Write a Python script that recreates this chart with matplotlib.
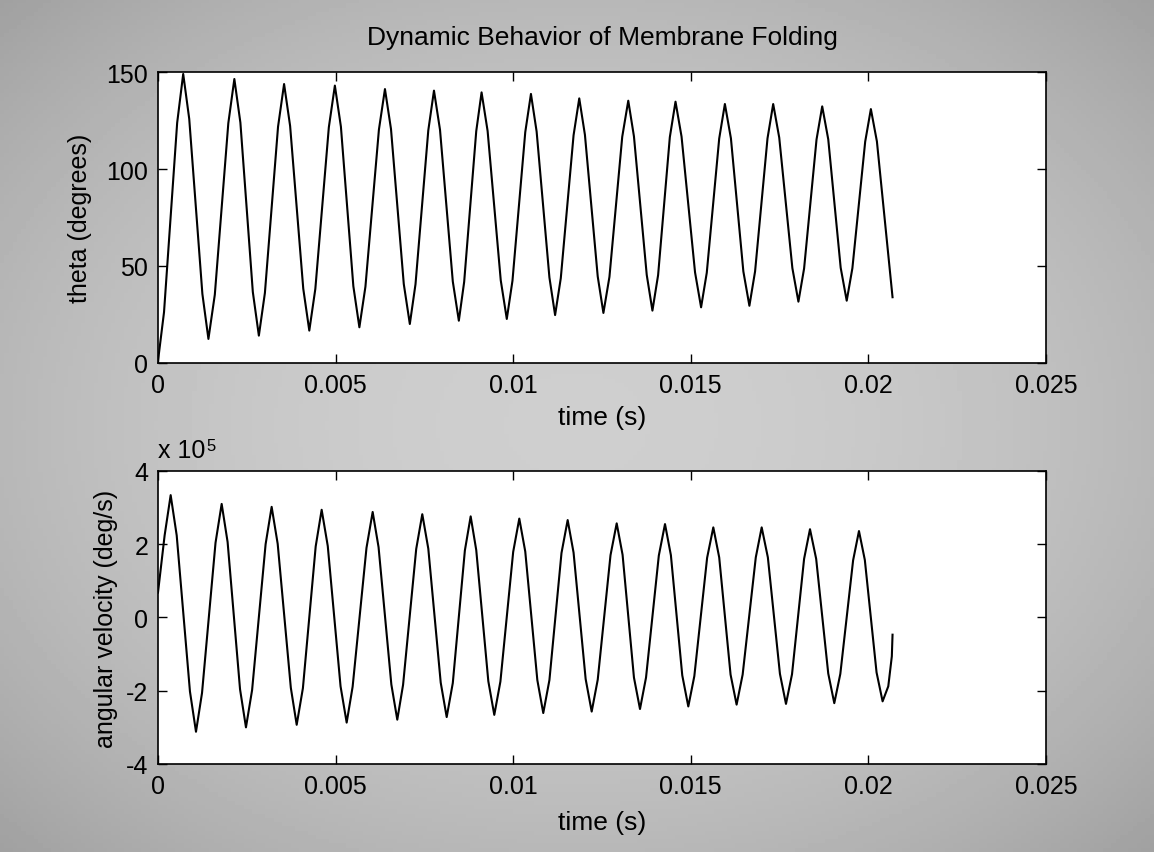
import numpy as np
import matplotlib
matplotlib.use('Agg')
import matplotlib.pyplot as plt

# theta(t): peaks, troughs and shoulder points
theta_t = [0.0, 0.00017, 0.00054, 0.00071, 0.00088, 0.00125, 0.00142,
           0.0016, 0.00198, 0.00215, 0.00232, 0.00267, 0.00284,
           0.00301, 0.00338, 0.00355, 0.00372, 0.00409, 0.00426,
           0.00443, 0.00481, 0.00498, 0.00515, 0.0055, 0.00567,
           0.00584, 0.00622, 0.00639, 0.00656, 0.00692, 0.00709,
           0.00725, 0.00761, 0.00777, 0.00794, 0.0083, 0.00847,
           0.00862, 0.00896, 0.00911, 0.00928, 0.00965, 0.00982,
           0.00998, 0.01034, 0.0105, 0.01066, 0.01102, 0.01118,
           0.01134, 0.0117, 0.01186, 0.01202, 0.01238, 0.01254,
           0.01271, 0.01307, 0.01324, 0.0134, 0.01376, 0.01392,
           0.01408, 0.01441, 0.01457, 0.01474, 0.01512, 0.01529,
           0.01545, 0.0158, 0.01596, 0.01613, 0.01648, 0.01665,
           0.01681, 0.01716, 0.01732, 0.01749, 0.01786, 0.01803,
           0.01819, 0.01854, 0.0187, 0.01887, 0.01922, 0.01939,
           0.01955, 0.01991, 0.02007, 0.02024, 0.02068]
theta_deg = [1, 26.2, 123.8, 149, 125.8, 35.6, 12.4,
             35.2, 123.6, 146.4, 123.9, 36.6, 14.1,
             36.1, 121.8, 143.8, 122.2, 38.3, 16.7,
             38.2, 121.5, 143, 121.8, 39.6, 18.4,
             39.3, 120.3, 141.2, 120.6, 40.7, 20.1,
             40.6, 119.9, 140.4, 120.2, 42.0, 21.8,
             41.8, 119.5, 139.5, 119.6, 42.6, 22.7,
             42.4, 119.0, 138.7, 119.3, 44.1, 24.7,
             43.7, 117.4, 136.4, 117.6, 44.6, 25.8,
             44.4, 116.6, 135.2, 116.8, 45.4, 27,
             45.3, 116.4, 134.7, 116.7, 46.7, 28.7,
             46.5, 115.7, 133.5, 115.8, 47.2, 29.5,
             47.2, 115.8, 133.5, 116.2, 48.9, 31.6,
             48.7, 115.2, 132.3, 115.3, 49.1, 32.1,
             48.9, 114.1, 130.9, 114.2, 33.9]

# angular velocity in units of 1e5 deg/s
omega_t = [0.0, 0.000187, 0.000357, 0.000527, 0.0009, 0.00107,
           0.00124, 0.00162, 0.001793, 0.00196, 0.00231, 0.002477,
           0.00265, 0.00303, 0.0032, 0.00337, 0.00374, 0.003905,
           0.00408, 0.00444, 0.004608, 0.00478, 0.00514, 0.005312,
           0.00548, 0.00587, 0.006044, 0.00621, 0.00657, 0.006737,
           0.0069, 0.00727, 0.007441, 0.00761, 0.00796, 0.008128,
           0.0083, 0.00864, 0.008803, 0.00896, 0.0093, 0.009468,
           0.00964, 0.01, 0.010172, 0.01034, 0.01068, 0.010847,
           0.01102, 0.01136, 0.011534, 0.0117, 0.01204, 0.01221,
           0.01238, 0.01274, 0.012914, 0.01308, 0.0134, 0.01357,
           0.01374, 0.0141, 0.014274, 0.01444, 0.01476, 0.01493,
           0.0151, 0.01546, 0.015634, 0.0158, 0.01612, 0.01629,
           0.01646, 0.01683, 0.016996, 0.01717, 0.01751, 0.01768,
           0.01785, 0.01819, 0.018356, 0.01853, 0.01887, 0.01904,
           0.01921, 0.01957, 0.019735, 0.0199, 0.02023, 0.0204,
           0.02056, 0.02066, 0.02068]
omega_e5 = [0.68, 2.24, 3.34, 2.24, -2.02, -3.12,
            -2.06, 2.04, 3.10, 2.06, -1.96, -3.0,
            -1.98, 2.0, 3.02, 2.01, -1.92, -2.93,
            -1.93, 1.94, 2.94, 1.95, -1.88, -2.87,
            -1.89, 1.9, 2.88, 1.92, -1.83, -2.79,
            -1.84, 1.87, 2.82, 1.88, -1.78, -2.72,
            -1.79, 1.83, 2.76, 1.84, -1.74, -2.66,
            -1.75, 1.79, 2.70, 1.80, -1.71, -2.61,
            -1.71, 1.76, 2.66, 1.77, -1.68, -2.57,
            -1.7, 1.70, 2.57, 1.71, -1.64, -2.50,
            -1.64, 1.69, 2.55, 1.7, -1.58, -2.43,
            -1.6, 1.63, 2.46, 1.64, -1.56, -2.38,
            -1.56, 1.64, 2.46, 1.64, -1.54, -2.36,
            -1.55, 1.6, 2.41, 1.6, -1.53, -2.34,
            -1.54, 1.56, 2.36, 1.57, -1.5, -2.29,
            -1.88, -1.06, -0.47]

x_ticks = [0, 0.005, 0.01, 0.015, 0.02, 0.025]
x_labels = ['0', '0.005', '0.01', '0.015', '0.02', '0.025']

plt.rcParams['font.family'] = ['Liberation Sans', 'DejaVu Sans']
plt.rcParams['axes.unicode_minus'] = False

fig = plt.figure(figsize=(11.54, 8.53), dpi=100)

# scanned gray paper look: darker towards the edges
bg = fig.add_axes([0, 0, 1, 1], zorder=-10)
yy, xx = np.mgrid[-1:1:200j, -1:1:270j]
shade = 0.81 - 0.09 * (xx ** 2 + yy ** 2)
bg.imshow(shade, cmap='gray', vmin=0, vmax=1, aspect='auto', extent=[0, 1, 0, 1])
bg.axis('off')


def style(ax):
    ax.set_facecolor('white')
    ax.set_xlim(0, 0.025)
    ax.set_xticks(x_ticks, x_labels)
    ax.tick_params(direction='in', length=6.5, width=1, top=True, right=True,
                   labelsize=18, pad=7, colors='black')
    for s in ax.spines.values():
        s.set_linewidth(1.2)
    ax.set_xlabel('time (s)', fontsize=19, labelpad=6)


ax1 = fig.add_axes([0.1369, 0.5733, 0.7695, 0.3411])
ax1.plot(theta_t, theta_deg, color='black', lw=1.5)
ax1.set_ylim(0, 150)
ax1.set_yticks([0, 50, 100, 150])
style(ax1)
ax1.set_ylabel('theta (degrees)', fontsize=18)
ax1.yaxis.set_label_coords(-0.074, 0.5)
ax1.set_title('Dynamic Behavior of Membrane Folding', fontsize=19, pad=20)

ax2 = fig.add_axes([0.1369, 0.1032, 0.7695, 0.3435])
ax2.plot(omega_t, omega_e5, color='black', lw=1.5)
ax2.set_ylim(-4, 4)
ax2.set_yticks([-4, -2, 0, 2, 4])
style(ax2)
ax2.xaxis.labelpad = 9
ax2.set_ylabel('angular velocity (deg/s)', fontsize=18)
ax2.yaxis.set_label_coords(-0.045, 0.5)
ax2.text(0.0, 1.048, 'x 10', transform=ax2.transAxes, fontsize=18, va='baseline')
ax2.text(0.055, 1.072, '5', transform=ax2.transAxes, fontsize=12, va='baseline')

fig.savefig('out.png', dpi=100)
